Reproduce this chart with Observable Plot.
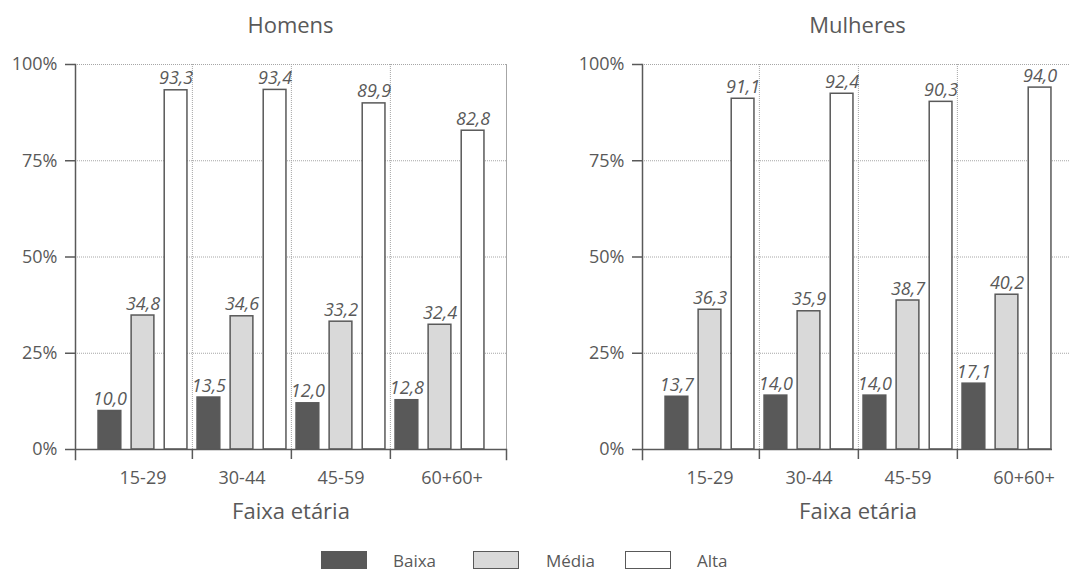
<!DOCTYPE html>
<html><head><meta charset="utf-8">
<script src="https://cdn.jsdelivr.net/npm/d3@7"></script>
<script src="https://cdn.jsdelivr.net/npm/@observablehq/plot@0.6"></script>
<style>
html,body{margin:0;padding:0;background:#fff;overflow:hidden;}
body{width:1070px;height:570px;position:relative;font-family:"Open Sans",sans-serif;color:#595959;}
.panel{position:absolute;top:0;width:567px;}
.title{height:48px;line-height:48px;font-size:22px;text-align:center;padding-left:75px;padding-right:61px;box-sizing:border-box;white-space:nowrap;}
.sw{position:absolute;top:551px;width:44px;height:16px;border:1px solid #595959;}
.lt{position:absolute;top:549px;font-size:17px;line-height:24px;}
</style></head>
<body>
<div id="left" class="panel" style="left:0"></div>
<div id="right" class="panel" style="left:567px"></div>
<div id="legend"></div>
<script>
// ---- data ----
const ages = ["15-29", "30-44", "45-59", "60+60+"];
const levels = ["Baixa", "Média", "Alta"];
const homensBaixa = [10.0, 13.5, 12.0, 12.8];
const homensMedia = [34.8, 34.6, 33.2, 32.4];
const homensAlta = [93.3, 93.4, 89.9, 82.8];
const mulheresBaixa = [13.7, 14.0, 14.0, 17.1];
const mulheresMedia = [36.3, 35.9, 38.7, 40.2];
const mulheresAlta = [91.1, 92.4, 90.3, 94.0];
const yTicks = [0, 25, 50, 75, 100];
const panelTitles = ["Homens", "Mulheres"];
const xLabel = "Faixa etária";

// ---- styles / layout ----
const fills = {"Baixa": "#595959", "Média": "#d9d9d9", "Alta": "#ffffff"};
const ink = "#595959";
const gridColor = "#a6a6a6";
const W = 567, ML = 75, MR = 61, MT = 16, PH = 385, MB = 89, INSET = 17;
const BW = (W - ML - MR - 2 * INSET) / ages.length;
const STEP = BW / levels.length;
const BARW = 23;
const PAD = (STEP - BARW) / 2;
const fmt = v => v.toFixed(1).replace(".", ",");

function panel(id, title, series, lastShift, baseInsetRight) {
  const el = document.getElementById(id);
  const t = document.createElement("div");
  t.className = "title";
  t.textContent = title;
  el.appendChild(t);
  const rows = series.map(s => ages.map((a, i) => ({age: a, value: s[i]})));
  const marks = [
    Plot.gridY(yTicks.slice(1), {stroke: gridColor, strokeOpacity: 1, strokeDasharray: "1,1"}),
    Plot.ruleX(ages.slice(1), {x: d => d, dx: -BW / 2, stroke: gridColor, strokeDasharray: "1,1"}),
    Plot.frame({anchor: "right", stroke: gridColor, strokeDasharray: "1,1"}),
    ...levels.map((lv, j) => Plot.barY(rows[j], {
      x: "age", y: "value", fill: fills[lv], stroke: ink, strokeWidth: 1.5,
      insetLeft: PAD + j * STEP, insetRight: BW - (PAD + j * STEP + BARW)
    })),
    ...levels.map((lv, j) => Plot.text(rows[j], {
      x: "age", y: "value", text: d => fmt(d.value), dx: (j - 1) * STEP, dy: -6,
      lineAnchor: "bottom", fontStyle: "italic", fontSize: 18, fill: ink
    })),
    Plot.ruleY([0], {stroke: ink, strokeWidth: 1.5, insetRight: baseInsetRight}),
    Plot.frame({anchor: "left", stroke: ink, strokeWidth: 1.5, insetBottom: -10}),
    Plot.ruleX(ages.slice(1), {x: d => d, dx: -BW / 2, insetTop: PH, insetBottom: -10, stroke: ink, strokeWidth: 1.5}),
    ...(baseInsetRight ? [] : [Plot.frame({anchor: "right", insetTop: PH, insetBottom: -10, stroke: ink, strokeWidth: 1.5})]),
    Plot.axisY(yTicks, {tickSize: 10, tickPadding: 8, tickFormat: d => d + "%", fontSize: 18, color: ink, strokeWidth: 1.5, label: null}),
    Plot.text(ages.slice(0, 3), {x: d => d, frameAnchor: "bottom", dy: 34, fontSize: 18, fill: ink}),
    Plot.text(ages.slice(3), {x: d => d, frameAnchor: "bottom", dy: 34, dx: lastShift, fontSize: 18, fill: ink}),
    Plot.text([xLabel], {text: d => d, frameAnchor: "bottom", dy: 69, fontSize: 22, fill: ink})
  ];
  const svg = Plot.plot({
    width: W, height: MT + PH + MB,
    marginLeft: ML, marginRight: MR, marginTop: MT, marginBottom: MB,
    x: {type: "band", domain: ages, padding: 0, insetLeft: INSET, insetRight: INSET, axis: null},
    y: {domain: [0, 100], axis: null},
    style: {fontFamily: "Open Sans", fontSize: "18px", color: ink, background: "white", overflow: "visible"},
    marks
  });
  el.appendChild(svg);
}

panel("left", panelTitles[0], [homensBaixa, homensMedia, homensAlta], 12, 0);
panel("right", panelTitles[1], [mulheresBaixa, mulheresMedia, mulheresAlta], 17, 21);

// legend
const legend = document.getElementById("legend");
const swX = [321, 473, 625], txX = [393, 546, 697];
levels.forEach((lv, j) => {
  const s = document.createElement("div");
  s.className = "sw"; s.style.left = swX[j] + "px"; s.style.background = fills[lv];
  legend.appendChild(s);
  const t = document.createElement("div");
  t.className = "lt"; t.style.left = txX[j] + "px"; t.textContent = lv;
  legend.appendChild(t);
});
</script>
</body></html>
